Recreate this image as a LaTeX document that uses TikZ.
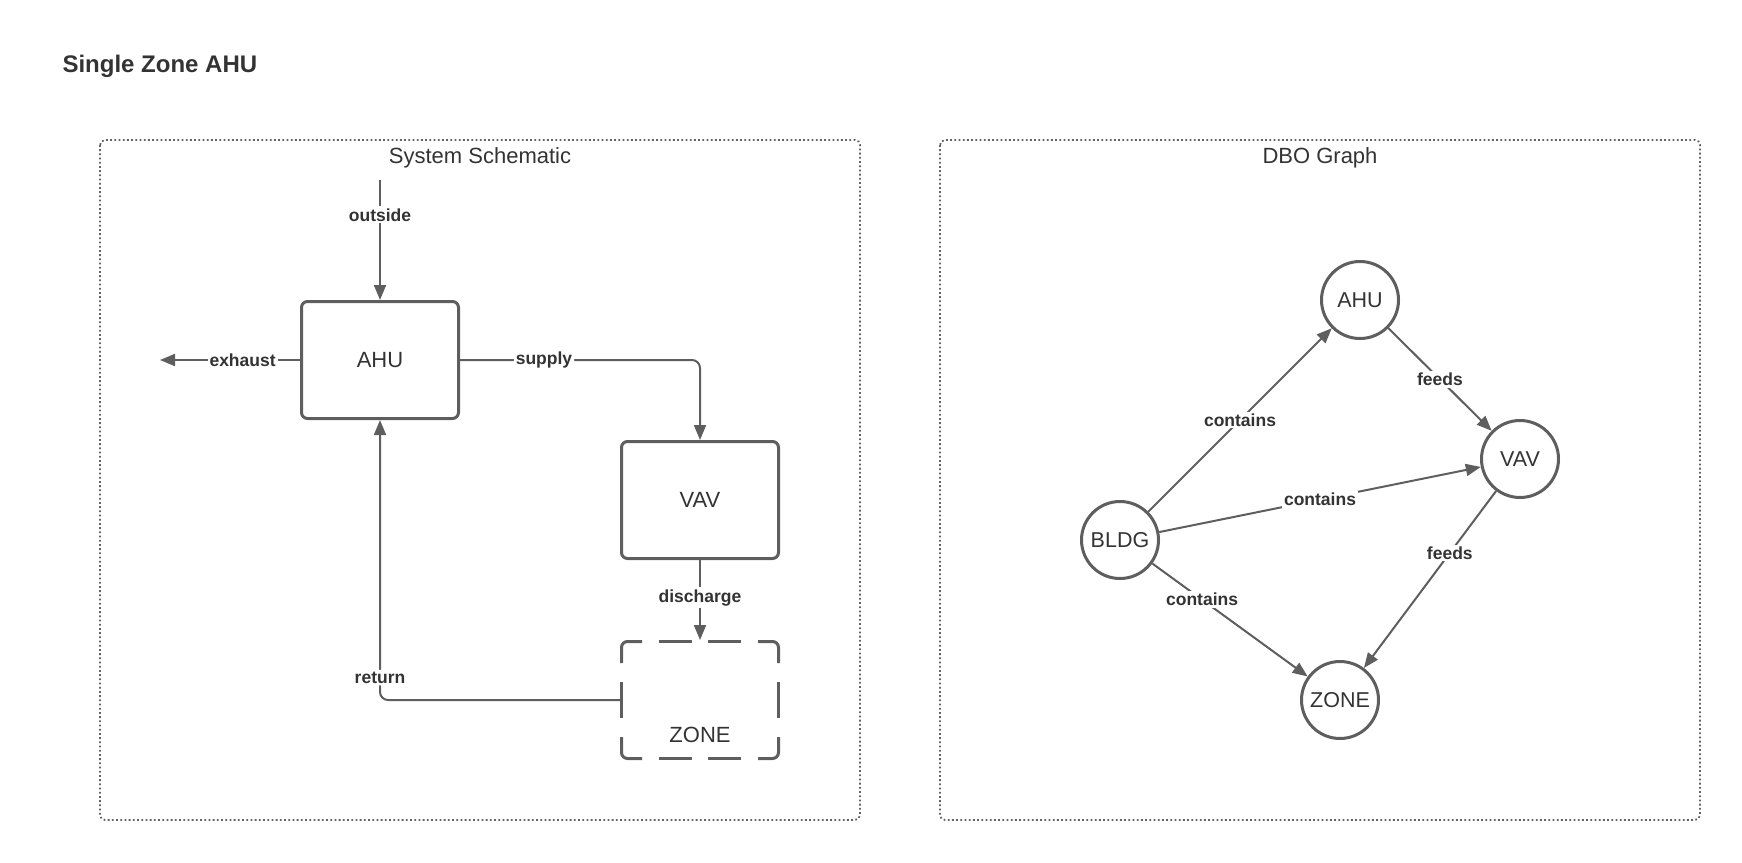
\documentclass[tikz,border=0pt]{standalone}
\usepackage{fontspec}
\setmainfont{Liberation Sans}
\usetikzlibrary{arrows.meta}
\definecolor{linegray}{RGB}{94,94,94}
\definecolor{textgray}{RGB}{51,51,51}
\definecolor{framegray}{RGB}{100,100,100}
\begin{document}
\begin{tikzpicture}[x=1pt,y=-1pt,
  conn/.style={draw=linegray, line width=2pt},
  arr/.style={conn, -{Triangle[length=15pt,width=12pt]}},
  schembox/.style={draw=linegray, line width=3pt, rounded corners=6pt,
    minimum width=157pt, minimum height=117pt, inner sep=0pt,
    font=\fontsize{22}{26}\selectfont, text=textgray},
  dashside/.style={draw=linegray, line width=3pt, rounded corners=6pt},
  gnode/.style={circle, draw=linegray, line width=3pt, minimum size=77pt,
    inner sep=0pt, font=\fontsize{21.5}{25}\selectfont, text=textgray},
  lbl/.style={fill=white, font=\bfseries\fontsize{17.5}{20}\selectfont,
    text=textgray, inner sep=2pt},
  frame/.style={draw=framegray, line width=1.8pt, dash pattern=on 1.8pt off 2.4pt,
    rounded corners=5pt},
  heading/.style={font=\fontsize{22}{26}\selectfont, text=textgray},
]
\useasboundingbox (0,0) rectangle (1742,862);

% page title
\node[anchor=west, font=\bfseries\fontsize{24}{28}\selectfont, text=textgray]
  (title) at (59,66) {Single Zone AHU};

% panel frames
\draw[frame] (100,140) rectangle (860,820);
\draw[frame] (940,140) rectangle (1700,820);
\node[heading] (schemhead) at (480,158) {System Schematic};
\node[heading] (dbohead) at (1320,158) {DBO Graph};

% ---- system schematic ----
\node[schembox] (ahu) at (380,360) {AHU};
\node[schembox] (vav) at (700,500) {VAV};
\node[schembox, draw=none] (zone) at (700,700) {};
\node[font=\fontsize{22}{26}\selectfont, text=textgray] (zonetext) at (700,735) {ZONE};

% dashed outline of the zone, drawn side by side
\begin{scope}[shift={(zone.center)}]
  % corners
  \draw[dashside] (-78.5,-37) -- (-78.5,-58.5) -- (-58,-58.5);
  \draw[dashside] (58,-58.5) -- (78.5,-58.5) -- (78.5,-37);
  \draw[dashside] (78.5,37) -- (78.5,58.5) -- (58,58.5);
  \draw[dashside] (-58,58.5) -- (-78.5,58.5) -- (-78.5,37);
  % straight dashes
  \draw[dashside] (-41,-58.5) -- (-8,-58.5);
  \draw[dashside] (8,-58.5) -- (41,-58.5);
  \draw[dashside] (-41,58.5) -- (-8,58.5);
  \draw[dashside] (8,58.5) -- (41,58.5);
  \draw[dashside] (-78.5,-18) -- (-78.5,18);
  \draw[dashside] (78.5,-18) -- (78.5,18);
\end{scope}

\coordinate (outsrc) at (380,180);
\coordinate (exhdst) at (160,360);

\draw[arr] (outsrc) -- node[lbl, pos=0.29] (outlbl) {outside} (ahu.north);
\draw[arr] (ahu.west) -- node[lbl, pos=0.41] (exhlbl) {exhaust} (exhdst);
\draw[arr, rounded corners=8pt] (ahu.east) -| node[lbl, pos=0.175] (suplbl) {supply} (vav.north);
\draw[arr] (vav.south) -- node[lbl, pos=0.47] (dislbl) {discharge} (zone.north);
\draw[arr, rounded corners=8pt] (zone.west) -| node[lbl, pos=0.54] (retlbl) {return} (ahu.south);

% ---- DBO graph ----
\node[gnode] (gahu) at (1360,300) {AHU};
\node[gnode] (gvav) at (1520,459) {VAV};
\node[gnode] (gbldg) at (1120,540) {BLDG};
\node[gnode] (gzone) at (1340,700) {ZONE};

\draw[arr] (gbldg) -- node[lbl, pos=0.5] (c1) {contains} (gahu);
\draw[arr] (gbldg) -- node[lbl, pos=0.5] (c2) {contains} (gvav);
\draw[arr] (gbldg) -- node[lbl, pos=0.32] (c3) {contains} (gzone);
\draw[arr] (gahu) -- node[lbl, pos=0.5] (f1) {feeds} (gvav);
\draw[arr] (gvav) -- node[lbl, pos=0.35] (f2) {feeds} (gzone);
\end{tikzpicture}
\end{document}
